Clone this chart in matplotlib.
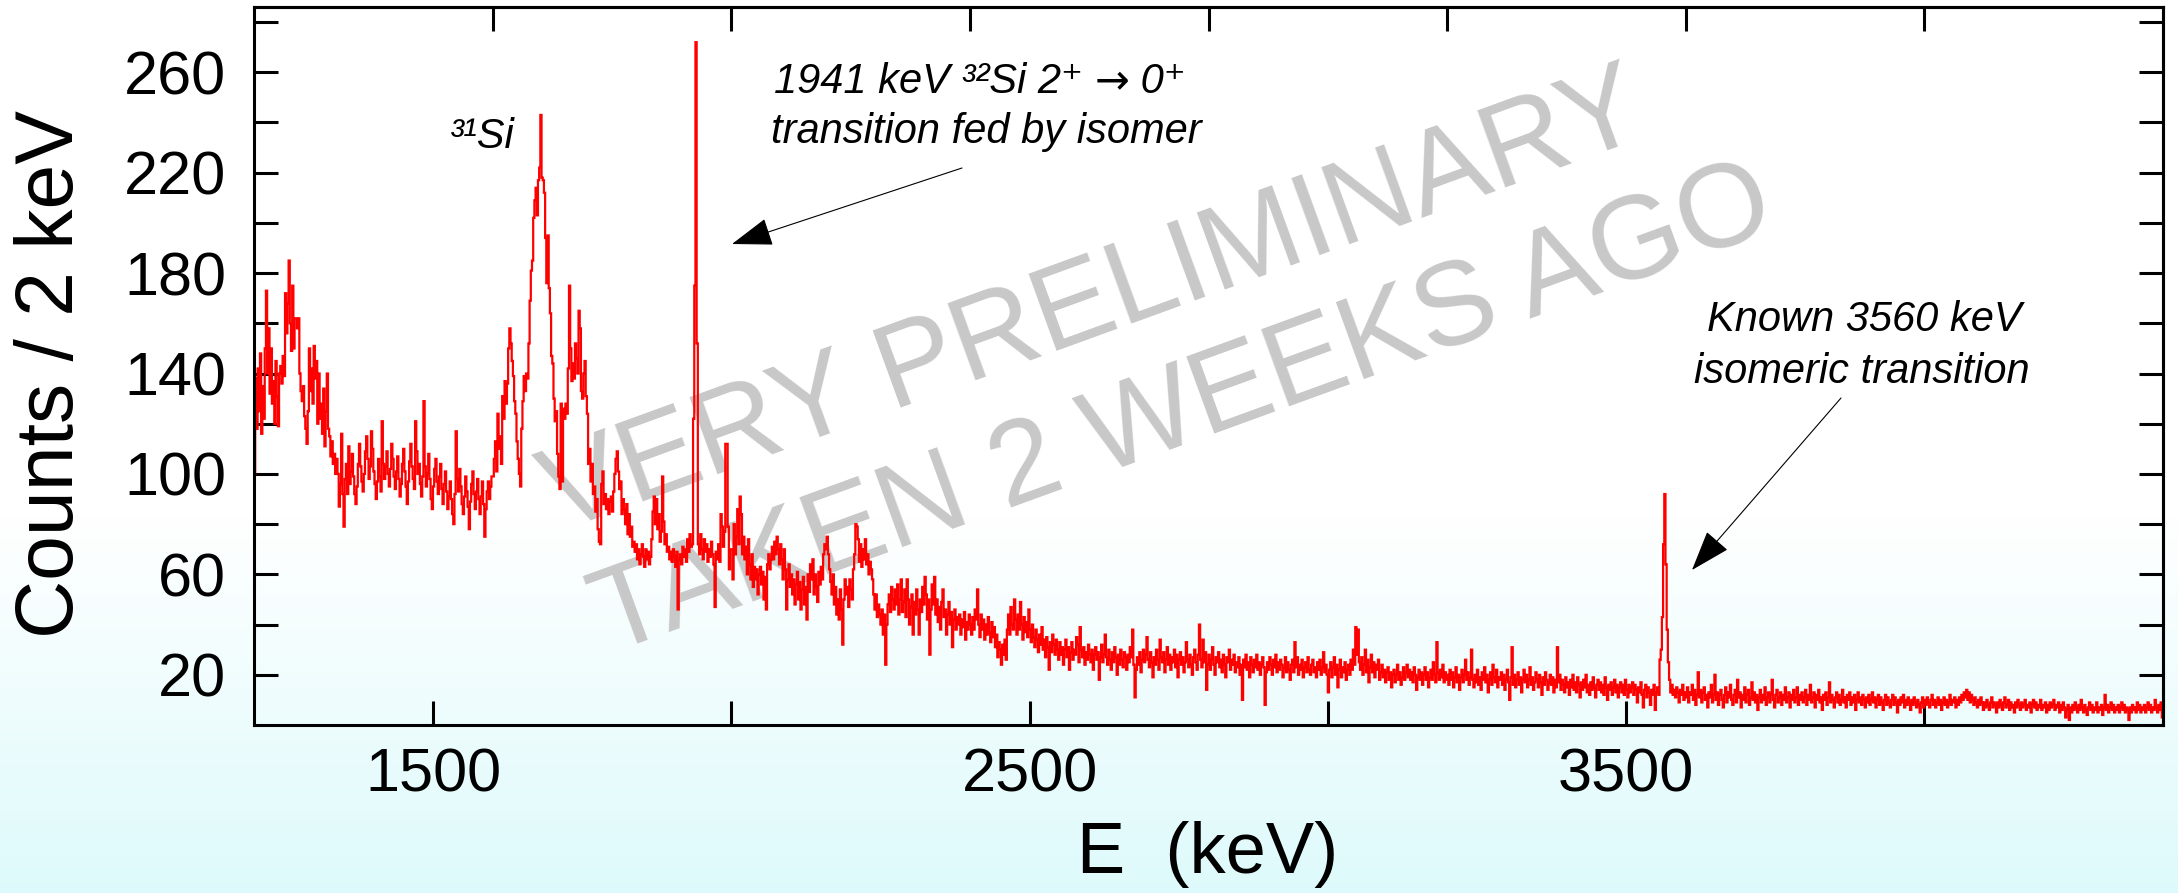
import numpy as np
import matplotlib
matplotlib.use("Agg")
import matplotlib.pyplot as plt
from matplotlib.ticker import NullFormatter
from matplotlib.offsetbox import TextArea, HPacker, AnnotationBbox

W, H, DPI = 2178, 893, 100
FONT = ["Liberation Sans", "DejaVu Sans"]

# gamma spectrum, 2 keV bins starting at 1200 keV
e_start = 1200
bin_width = 2

counts_1200 = [
    100, 138, 118, 142, 125, 148, 116, 135, 122, 150,
    173, 140, 158, 132, 150, 128, 137, 120, 145, 131,
    119, 140, 143, 136, 147, 139, 172, 156, 168, 185,
    160, 149, 175, 150, 162, 162, 158, 162, 140, 133,
    129, 135, 123, 118, 112, 125, 150, 133, 142, 128,
    151, 138, 145, 120, 140, 122, 128, 116, 134, 111,
    125, 140, 118, 115, 107, 113, 104, 108, 100, 106,
    100, 87, 96, 116, 92, 79, 98, 104, 92, 111,
    96, 101, 108, 99, 92, 88, 95, 104, 112, 103,
    97, 93, 100, 109, 115, 106, 98, 103, 117, 110,
    101, 96, 90, 97, 106, 99, 93, 121, 104, 98,
    103, 109, 100, 95, 102, 112, 106, 99, 94, 101,
    107, 98, 91, 96, 104, 110, 101, 95, 88, 97,
    105, 112, 103, 98, 94, 121, 109, 100, 104, 96,
    91, 99, 129, 103, 95, 100, 108, 98, 90, 86,
    95, 102, 106, 97, 92, 99, 104, 94, 88, 96,
    101, 93, 86, 91, 97, 90, 84, 80, 92, 117,
    98, 93, 102, 95, 88, 84, 91, 99, 93, 87,
    78, 89, 96, 101, 92, 86, 93, 98, 90, 84,
    91, 97, 88, 75, 86, 93, 97, 90, 95, 99,
]

counts_1600 = [
    99, 106, 113, 101, 124, 110, 115, 104, 131, 122,
    137, 128, 136, 150, 158, 152, 145, 139, 129, 124,
    113, 106, 100, 95, 118, 129, 139, 133, 140, 138,
    152, 169, 181, 185, 202, 209, 214, 203, 217, 222,
    243, 218, 217, 212, 194, 176, 195, 174, 164, 147,
    144, 130, 121, 125, 108, 99, 94, 128, 97, 126,
    122, 128, 124, 142, 175, 150, 137, 144, 138, 152,
    146, 140, 165, 158, 133, 130, 140, 145, 131, 124,
    104, 110, 97, 104, 92, 95, 85, 90, 78, 73,
    72, 96, 101, 88, 92, 86, 90, 84, 89, 91,
    85, 93, 100, 106, 109, 101, 94, 97, 84, 90,
    86, 80, 88, 76, 84, 75, 79, 71, 73, 69,
    72, 66, 70, 64, 68, 72, 67, 63, 70, 66,
    69, 64, 67, 74, 85, 91, 80, 90, 78, 84,
    73, 77, 99, 81, 72, 76, 69, 71, 66, 69,
    65, 70, 67, 63, 69, 46, 66, 68, 64, 71,
    67, 70, 65, 74, 69, 76, 71, 72, 122, 175,
    272, 152, 72, 68, 76, 70, 66, 74, 69, 72,
    65, 70, 67, 73, 68, 64, 47, 69, 66, 72,
    65, 84, 79, 71, 77, 112, 112, 79, 62, 70,
]

counts_2000 = [
    70, 58, 80, 68, 75, 86, 72, 91, 84, 68,
    75, 66, 71, 60, 74, 64, 58, 68, 55, 63,
    58, 62, 52, 60, 63, 56, 61, 50, 59, 46,
    64, 68, 62, 66, 71, 66, 73, 68, 75, 70,
    64, 72, 66, 58, 70, 62, 46, 58, 64, 55,
    60, 52, 58, 48, 56, 61, 50, 57, 46, 54,
    59, 48, 55, 42, 60, 53, 64, 58, 66, 52,
    60, 55, 49, 61, 56, 63, 58, 68, 72, 70,
    75, 68, 62, 57, 52, 60, 48, 55, 44, 50,
    42, 54, 46, 32, 50, 58, 52, 55, 47, 58,
    54, 50, 62, 68, 80, 79, 74, 65, 72, 63,
    70, 66, 74, 64, 68, 60, 65, 62, 58, 52,
    46, 52, 43, 48, 44, 40, 46, 36, 44, 24,
    40, 48, 52, 45, 55, 50, 46, 54, 48, 56,
    44, 50, 58, 45, 49, 54, 43, 58, 50, 40,
    47, 52, 36, 49, 44, 54, 46, 36, 50, 45,
    55, 48, 59, 52, 42, 50, 28, 46, 56, 48,
    59, 44, 50, 41, 47, 38, 49, 54, 43, 46,
    36, 44, 49, 40, 45, 31, 42, 46, 38, 43,
    40, 44, 36, 42, 39, 45, 34, 41, 38, 44,
]

counts_2400 = [
    40, 36, 43, 38, 46, 42, 54, 40, 35, 44,
    38, 42, 34, 40, 36, 43, 37, 33, 41, 35,
    39, 31, 36, 27, 33, 30, 24, 32, 28, 34,
    26, 38, 44, 36, 47, 40, 38, 50, 42, 36,
    44, 38, 49, 40, 34, 43, 37, 41, 35, 46,
    38, 33, 40, 35, 31, 38, 34, 29, 36, 32,
    39, 30, 34, 27, 35, 31, 22, 33, 29, 36,
    32, 28, 34, 30, 26, 33, 28, 31, 24, 30,
    34, 27, 31, 22, 29, 33, 26, 30, 28, 35,
    32, 25, 39, 30, 27, 31, 24, 29, 26, 32,
    28, 25, 30, 22, 28, 31, 26, 29, 18, 27,
    32, 25, 28, 36, 27, 24, 30, 26, 22, 29,
    25, 31, 27, 20, 28, 24, 30, 26, 23, 29,
    27, 22, 28, 25, 31, 27, 38, 24, 11, 22,
    27, 24, 29, 21, 26, 30, 25, 28, 35, 26,
    23, 29, 25, 19, 27, 24, 30, 26, 22, 34,
    27, 25, 29, 21, 26, 31, 24, 28, 22, 27,
    25, 30, 23, 28, 19, 26, 29, 24, 27, 21,
    25, 33, 26, 23, 28, 24, 20, 27, 30, 25,
    22, 28, 40, 26, 23, 34, 25, 29, 14, 24,
]

counts_2800 = [
    28, 22, 26, 31, 24, 20, 27, 25, 29, 23,
    26, 21, 28, 24, 19, 27, 25, 30, 22, 26,
    24, 28, 21, 25, 23, 27, 20, 24, 10, 26,
    23, 28, 22, 25, 19, 27, 24, 21, 26, 23,
    28, 22, 25, 20, 24, 27, 23, 8, 21, 25,
    22, 27, 24, 20, 26, 23, 28, 21, 25, 22,
    26, 24, 19, 23, 27, 21, 25, 22, 18, 24,
    26, 21, 33, 23, 27, 20, 24, 22, 26, 19,
    23, 25, 21, 27, 22, 20, 24, 26, 21, 23,
    19, 25, 22, 26, 20, 23, 29, 21, 24, 20,
    13, 22, 25, 19, 23, 27, 20, 24, 15, 22,
    26, 19, 23, 21, 25, 18, 22, 24, 20, 26,
    22, 30, 24, 39, 28, 38, 25, 22, 27, 20,
    24, 30, 21, 26, 17, 23, 28, 21, 25, 19,
    24, 22, 26, 18, 21, 24, 19, 22, 17, 21,
    23, 18, 21, 15, 20, 22, 17, 20, 24, 18,
    21, 16, 19, 23, 18, 21, 24, 19, 22, 18,
    21, 17, 23, 20, 14, 19, 22, 18, 21, 16,
    20, 23, 18, 21, 15, 19, 22, 18, 25, 20,
    17, 33, 21, 18, 22, 19, 24, 17, 21, 18,
]

counts_3200 = [
    20, 16, 22, 18, 21, 15, 19, 23, 17, 20,
    14, 19, 22, 17, 20, 26, 18, 21, 16, 19,
    30, 18, 15, 20, 17, 22, 16, 19, 14, 21,
    18, 23, 17, 20, 13, 18, 21, 16, 24, 19,
    17, 22, 15, 19, 18, 21, 16, 20, 14, 18,
    22, 17, 10, 19, 31, 16, 20, 15, 18, 21,
    16, 19, 13, 18, 22, 17, 20, 15, 18, 23,
    16, 19, 14, 17, 21, 18, 15, 20, 17, 12,
    19, 16, 21, 18, 14, 17, 20, 16, 19, 13,
    18, 15, 31, 17, 20, 14, 18, 16, 13, 19,
    15, 17, 12, 18, 15, 20, 14, 17, 13, 19,
    16, 11, 17, 14, 18, 15, 20, 13, 16, 12,
    17, 14, 19, 15, 11, 16, 18, 14, 17, 13,
    16, 12, 19, 15, 10, 16, 14, 17, 12, 15,
    18, 13, 16, 11, 15, 17, 13, 16, 12, 18,
    14, 11, 16, 13, 15, 17, 12, 16, 14, 9,
    15, 13, 17, 12, 7, 14, 16, 11, 15, 13,
    8, 14, 12, 16, 6, 13, 15, 12, 26, 30,
    43, 72, 92, 64, 38, 25, 18, 13, 16, 12,
    14, 11, 15, 13, 9, 14, 12, 16, 10, 13,
]

counts_3600 = [
    11, 15, 9, 13, 12, 16, 10, 14, 8, 12,
    21, 11, 14, 9, 13, 15, 10, 12, 7, 13,
    11, 16, 9, 12, 20, 10, 13, 8, 12, 14,
    10, 7, 12, 15, 9, 13, 11, 16, 10, 8,
    12, 14, 9, 18, 11, 13, 7, 12, 10, 15,
    9, 12, 14, 8, 11, 17, 10, 13, 9, 12,
    6, 11, 14, 9, 12, 10, 15, 8, 11, 13,
    9, 12, 18, 10, 7, 12, 14, 9, 11, 13,
    8, 12, 10, 15, 9, 11, 13, 7, 12, 10,
    14, 9, 11, 15, 8, 12, 10, 13, 9, 11,
    14, 8, 12, 10, 16, 9, 11, 13, 7, 12,
    10, 14, 9, 11, 6, 12, 10, 13, 8, 11,
    17, 9, 12, 10, 7, 11, 13, 9, 12, 8,
    10, 14, 9, 11, 7, 12, 10, 13, 8, 11,
    9, 12, 6, 10, 13, 9, 11, 8, 12, 10,
    7, 11, 9, 12, 8, 10, 13, 9, 11, 7,
    10, 12, 8, 11, 9, 6, 10, 12, 8, 11,
    9, 7, 10, 12, 8, 11, 9, 5, 10, 8,
    11, 9, 12, 7, 10, 8, 11, 9, 6, 10,
    8, 11, 9, 7, 10, 8, 5, 9, 11, 7,
]

counts_4000 = [
    10, 8, 11, 9, 7, 10, 12, 8, 10, 7,
    9, 11, 8, 10, 6, 9, 11, 8, 10, 7,
    9, 12, 8, 10, 9, 11, 7, 10, 8, 11,
    9, 12, 10, 13, 11, 14, 10, 13, 9, 12,
    10, 8, 11, 9, 7, 10, 8, 11, 9, 6,
    9, 7, 10, 8, 6, 9, 11, 7, 9, 8,
    5, 9, 7, 10, 8, 6, 9, 11, 7, 8,
    10, 6, 9, 7, 8, 5, 9, 7, 10, 8,
    6, 9, 7, 8, 10, 6, 8, 7, 9, 5,
    8, 10, 7, 9, 6, 8, 7, 10, 6, 8,
    7, 9, 5, 8, 6, 9, 7, 8, 10, 6,
    8, 7, 9, 5, 8, 6, 9, 7, 3, 6,
    8, 2, 7, 5, 8, 6, 9, 7, 5, 8,
    6, 10, 7, 5, 8, 6, 4, 7, 9, 6,
    8, 5, 7, 6, 9, 5, 7, 6, 8, 4,
    7, 12, 6, 8, 5, 7, 9, 6, 8, 5,
    7, 6, 8, 5, 7, 9, 6, 8, 5, 7,
    6, 2, 7, 5, 8, 6, 7, 5, 9, 6,
    8, 5, 7, 6, 8, 5, 7, 9, 6, 8,
    5, 7, 6, 10, 7, 5, 8, 6, 9, 3,
]

x_ticks = [1500, 2000, 2500, 3000, 3500, 4000]
x_tick_labels = ["1500", "", "2500", "", "3500", ""]
top_ticks = [1600, 2000, 2400, 2800, 3200, 3600, 4000]
y_ticks = [20, 40, 60, 80, 100, 120, 140, 160, 180, 200, 220, 240, 260, 280]
y_tick_labels = ["20", "", "60", "", "100", "", "140", "", "180", "", "220", "", "260", ""]


def fx(px):
    return px / W


def fy(py):
    return 1 - py / H


counts = np.concatenate([counts_1200, counts_1600, counts_2000, counts_2400,
                         counts_2800, counts_3200, counts_3600, counts_4000])
edges = e_start + bin_width * np.arange(len(counts) + 1)

plt.rcParams["font.family"] = FONT
fig = plt.figure(figsize=(W / DPI, H / DPI), dpi=DPI)

# slide background: white fading to pale cyan at the bottom
bg = fig.add_axes([0, 0, 1, 1], zorder=-10)
rows = np.linspace(0, 1, 400)
t = np.clip((rows - 0.58) / 0.42, 0, 1)[:, None]
top_c = np.array([1.0, 1.0, 1.0])
bot_c = np.array([0.87, 0.98, 0.985])
grad = (1 - t)[:, :, None] * top_c + t[:, :, None] * bot_c
bg.imshow(grad, aspect="auto", extent=[0, 1, 1, 0])
bg.set_axis_off()

ax = fig.add_axes([fx(254), fy(725), (2163 - 254) / W, (725 - 7) / H])
ax.set_facecolor("none")

# watermark (behind the spectrum)
ax.text(0.44, 0.585, "VERY PRELIMINARY", transform=ax.transAxes, rotation=20,
        rotation_mode="anchor", ha="center", va="center", fontsize=86,
        color="#c8c8c8", zorder=0)
ax.text(0.487, 0.435, "TAKEN 2 WEEKS AGO", transform=ax.transAxes, rotation=20,
        rotation_mode="anchor", ha="center", va="center", fontsize=86,
        color="#c8c8c8", zorder=0)

ax.stairs(counts, edges, baseline=None, color="red", lw=1.6, zorder=2)

ax.set_xlim(1200, 4400)
ax.set_ylim(0, 286)
ax.set_xticks(x_ticks, x_tick_labels)
ax.set_yticks(y_ticks, y_tick_labels)
ax.tick_params(axis="both", direction="in", length=17, width=2.2,
               labelsize=44, color="black")
ax.tick_params(axis="x", pad=16)
ax.tick_params(axis="y", pad=20)
for s in ax.spines.values():
    s.set_linewidth(2.2)

top = ax.secondary_xaxis("top")
top.set_xticks(top_ticks)
top.xaxis.set_major_formatter(NullFormatter())
top.tick_params(direction="in", length=17, width=2.2)
right = ax.secondary_yaxis("right")
right.set_yticks(y_ticks)
right.yaxis.set_major_formatter(NullFormatter())
right.tick_params(direction="in", length=17, width=2.2)
for sec in (top, right):
    for s in sec.spines.values():
        s.set_linewidth(2.2)

fig.text(fx(1208), fy(855), "E  (keV)", ha="center", va="center", fontsize=52)
fig.text(fx(52), fy(374), "Counts / 2 keV", ha="center", va="center",
         rotation=90, fontsize=58)

# annotations
it = dict(fontsize=30, style="italic", family=FONT)
line1 = HPacker(children=[TextArea("1941 keV \u00b3\u00b2Si 2\u207a ", textprops=it),
                          TextArea("\u2192", textprops=dict(fontsize=30, family="DejaVu Sans")),
                          TextArea(" 0\u207a", textprops=it)],
                align="baseline", pad=0, sep=0)
fig.add_artist(AnnotationBbox(line1, (fx(980), fy(81)), xycoords="figure fraction",
                              frameon=False, box_alignment=(0.5, 0.5), pad=0))
fig.text(fx(986), fy(143), "transition fed by isomer", ha="center",
         va="baseline", fontsize=30, style="italic")
fig.text(fx(450), fy(148), "\u00b3\u00b9Si", ha="left", va="baseline",
         fontsize=30, style="italic")
fig.text(fx(1864), fy(331), "Known 3560 keV", ha="center", va="baseline",
         fontsize=30, style="italic")
fig.text(fx(1862), fy(383), "isomeric transition", ha="center", va="baseline",
         fontsize=30, style="italic")

arrow = dict(arrowstyle="-|>,head_length=1.3,head_width=0.45", color="black",
             lw=0.8, mutation_scale=20, shrinkA=0, shrinkB=0)
ax.annotate("", xy=(fx(732), fy(244)), xycoords="figure fraction",
            xytext=(fx(962), fy(168)), textcoords="figure fraction",
            arrowprops=arrow)
ax.annotate("", xy=(fx(1692), fy(570)), xycoords="figure fraction",
            xytext=(fx(1841), fy(398)), textcoords="figure fraction",
            arrowprops=arrow)

fig.savefig("out.png", dpi=DPI)
